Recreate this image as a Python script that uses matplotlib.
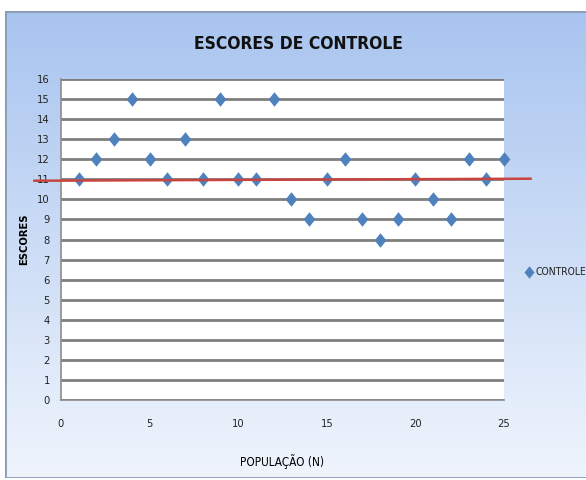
import numpy as np
import matplotlib
matplotlib.use("Agg")
import matplotlib.pyplot as plt
from matplotlib.patches import Rectangle
from matplotlib.lines import Line2D

# Data
x_pop = list(range(1, 26))
escores = [11, 12, 13, 15, 12, 11, 13, 11, 15, 11, 11, 15, 10, 9, 11, 12, 9, 8, 9, 11, 10, 9, 12, 11, 12]
line_x = [-1.5, 26.5]
line_y = [10.93, 11.03]
y_ticks = list(range(0, 17))
x_ticks = [0, 5, 10, 15, 20, 25]

W, H = 586, 480
fig = plt.figure(figsize=(W / 100, H / 100), dpi=100)
fig.patch.set_facecolor("white")

bg = fig.add_axes([5 / W, 1 - 478 / H, 1 - 5 / W, (478 - 11) / H])
bg.set_axis_off()
top = np.array([0.66, 0.77, 0.94])
bot = np.array([0.94, 0.96, 0.99])
t = np.linspace(0, 1, 256)[:, None]
grad = (top[None, :] * (1 - t) + bot[None, :] * t)[:, None, :]
bg.imshow(grad, aspect="auto", extent=[0, 1, 0, 1], zorder=0)
bg.set_xlim(0, 1)
bg.set_ylim(0, 1)
bg.add_patch(Rectangle((0, 0), 1.2, 1, fill=False, edgecolor="#8A9BB5", lw=2.0, zorder=2))

fontfam = ["DejaVu Sans"]
fp = dict(family=fontfam, stretch="condensed")
diamond = [(0, 1), (0.8, 0), (0, -1), (-0.8, 0), (0, 1)]

ax = fig.add_axes([61 / W, 1 - 400 / H, (504 - 61) / W, (400 - 79) / H])
ax.set_facecolor("white")
ax.set_xlim(0, 25)
ax.set_ylim(0, 16)
ax.set_yticks(y_ticks)
ax.set_xticks(x_ticks)
ax.tick_params(length=0, labelsize=8, colors="#222222", pad=8)
for lab in ax.get_xticklabels() + ax.get_yticklabels():
    lab.set_family(fontfam)
    lab.set_stretch("condensed")
ax.tick_params(axis="x", pad=14)
ax.grid(axis="y", color="#7F7F7F", lw=2.0)
ax.set_axisbelow(True)
for s in ["top", "right"]:
    ax.spines[s].set_visible(False)
ax.spines["left"].set_color("#8C8C8C")
ax.spines["bottom"].set_color("#8C8C8C")
ax.spines["left"].set_linewidth(1.2)
ax.spines["bottom"].set_linewidth(1.2)

ax.plot(x_pop, escores, linestyle="none", marker=diamond, markersize=10.5, color="#4F81BD",
        markeredgewidth=0, zorder=3, clip_on=False)
ax.add_line(Line2D(line_x, line_y, color="#C8453F", lw=1.8, clip_on=False, zorder=4))

ax.set_ylabel("ESCORES", fontsize=8, fontweight="bold", labelpad=6, **fp)
ax.set_xlabel("POPULAÇÃO (N)", fontsize=8.5, labelpad=18, **fp)

fig.text(298 / W, 1 - 44 / H, "ESCORES DE CONTROLE", ha="center", va="center",
         fontsize=12.5, fontweight="bold", color="#111111", **fp)

fig.lines.append(Line2D([529 / W], [1 - 272 / H], marker=diamond, markersize=9, color="#4F81BD",
                        markeredgewidth=0, linestyle="none", transform=fig.transFigure))
fig.text(535 / W, 1 - 272 / H, "CONTROLE", ha="left", va="center", fontsize=7.5,
         color="#222222", **fp)

fig.savefig("out.png", dpi=100)
